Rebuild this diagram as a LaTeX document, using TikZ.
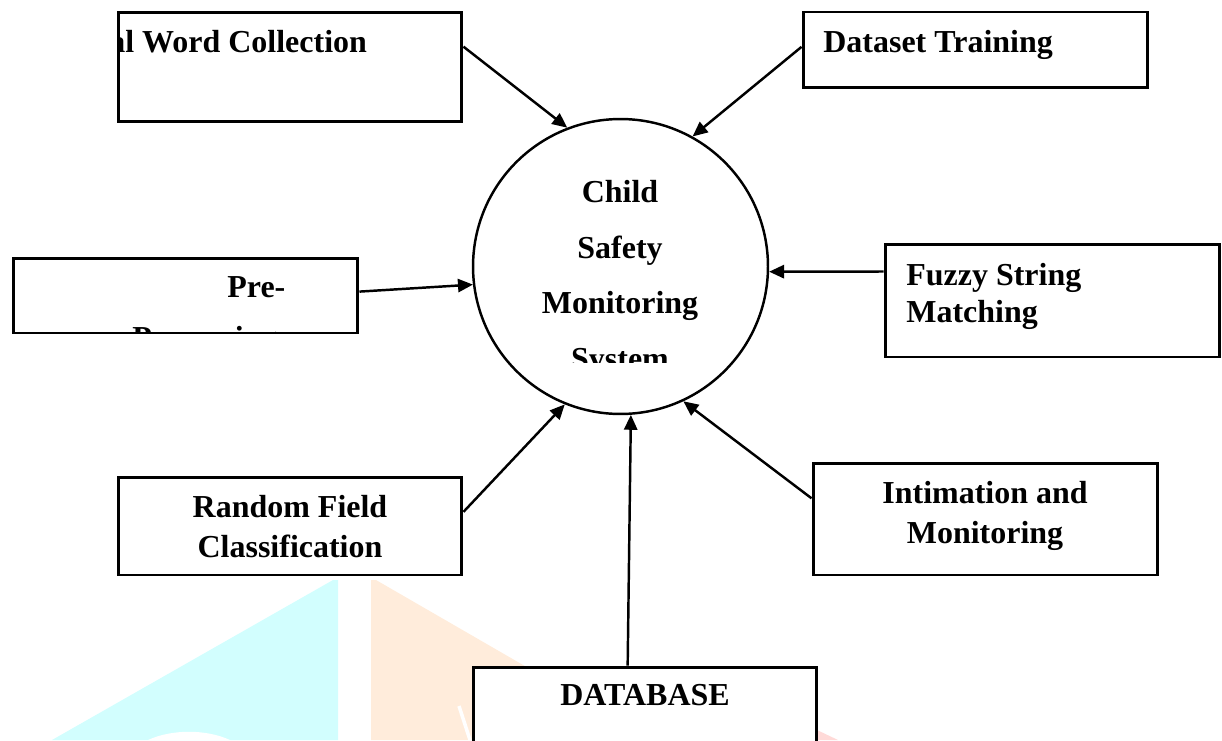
\documentclass[tikz,border=0pt]{standalone}
\usepackage{fontspec}
\setmainfont{Liberation Serif}
\usetikzlibrary{calc,arrows.meta}

\definecolor{wmcyan}{RGB}{210,254,254}
\definecolor{wmorange}{RGB}{255,236,219}
\definecolor{wmpink}{RGB}{255,218,216}

\begin{document}
\begin{tikzpicture}[x=0.02cm, y=-0.02cm,
  every node/.style={inner sep=0pt},
  box/.style={draw, rectangle, line width=1.7pt, fill=white},
  lbl/.style={font=\fontsize{18.2}{22}\selectfont\bfseries},
  feed/.style={line width=1.4pt, -{Triangle[length=8.5pt, width=7.5pt]}}]
  \clip (0,0) rectangle (1222,740);
  % faint logo in the background
  \fill[wmcyan] (333,580) -- (338,580) -- (338,740) -- (52,740) -- cycle;
  \fill[white] (148,740) .. controls (172,729) and (206,729) .. (230,740) -- cycle;
  \fill[wmorange] (371,580) -- (376,580) -- (530,669) -- (530,740) -- (371,740) -- cycle;
  \draw[white, line width=2pt] (459,706) -- (470,740);
  \fill[wmpink] (817,730) -- (838,740) -- (817,740) -- cycle;
  %
  % centre process
  \node[draw, circle, line width=1.4pt, minimum size=5.9cm] (cs) at (620.5,266.5) {};
  %
  % the boxes round it
  \node[box, minimum width=6.88cm, minimum height=2.2cm] (words) at (290,67) {};
  \node[box, minimum width=6.9cm, minimum height=1.52cm] (train) at (975.5,50) {};
  \node[box, minimum width=6.9cm, minimum height=1.5cm] (prep) at (185.5,295.5) {};
  \node[box, minimum width=6.7cm, minimum height=2.26cm] (fuzzy) at (1052.5,300.5) {};
  \node[box, minimum width=6.88cm, minimum height=1.96cm] (crf) at (290,526) {};
  \node[box, minimum width=6.9cm, minimum height=2.24cm] (notify) at (985.5,519) {};
  \node[box, minimum width=6.88cm, minimum height=1.92cm] (db) at (645,715) {};
  %
  % texts
  \begin{scope}
    \clip ($(words.north west)+(2,0)$) rectangle (words.south east);
    \node[lbl, anchor=base west] (wordstxt) at (109,52) {al Word Collection};
  \end{scope}
  \node[lbl, anchor=base west] (traintxt) at (823,52) {Dataset Training};
  \node[lbl, anchor=base west] (preptxt) at (227,297) {Pre-};
  \begin{scope}
    \clip (prep.north west) rectangle ($(prep.south east)+(0,-2)$);
    \node[lbl, anchor=base west] (preptxtb) at (132,348) {Processing};
  \end{scope}
  \node[lbl, anchor=base] (cstxta) at (620,202) {Child};
  \node[lbl, anchor=base] (cstxtb) at (620,258) {Safety};
  \node[lbl, anchor=base] (cstxtc) at (620,313) {Monitoring};
  \begin{scope}
    \clip (520,330) rectangle (720,362);
    \node[lbl, anchor=base] (cstxtd) at (620,369) {System};
  \end{scope}
  \node[lbl, anchor=base west] (fuzzytxta) at (906,285) {Fuzzy String};
  \node[lbl, anchor=base west] (fuzzytxtb) at (906,322) {Matching};
  \node[lbl, anchor=base] (crftxta) at (290,517) {Random Field};
  \node[lbl, anchor=base] (crftxtb) at (290,557) {Classification};
  \node[lbl, anchor=base] (notifytxta) at (985,503) {Intimation and};
  \node[lbl, anchor=base] (notifytxtb) at (985,543) {Monitoring};
  \node[lbl, anchor=base] (dbtxt) at (645,705) {DATABASE};
  %
  % arrows into the centre
  \draw[feed] ($(words.north east)!0.32!(words.south east)$) -- (cs.111.4);
  \draw[feed] ($(train.north west)!0.46!(train.south west)$) -- (cs.61.6);
  \draw[feed] ($(prep.north east)!0.45!(prep.south east)$) -- (cs.187.5);
  \draw[feed] ($(fuzzy.north west)!0.25!(fuzzy.south west)$) -- (cs.-2.1);
  \draw[feed] ($(crf.north east)!0.36!(crf.south east)$) -- (cs.248.5);
  \draw[feed] ($(notify.north west)!0.32!(notify.south west)$) -- (cs.295.3);
  \draw[feed] ($(db.north west)!0.45!(db.north east)$) -- (cs.274.8);
\end{tikzpicture}
\end{document}
